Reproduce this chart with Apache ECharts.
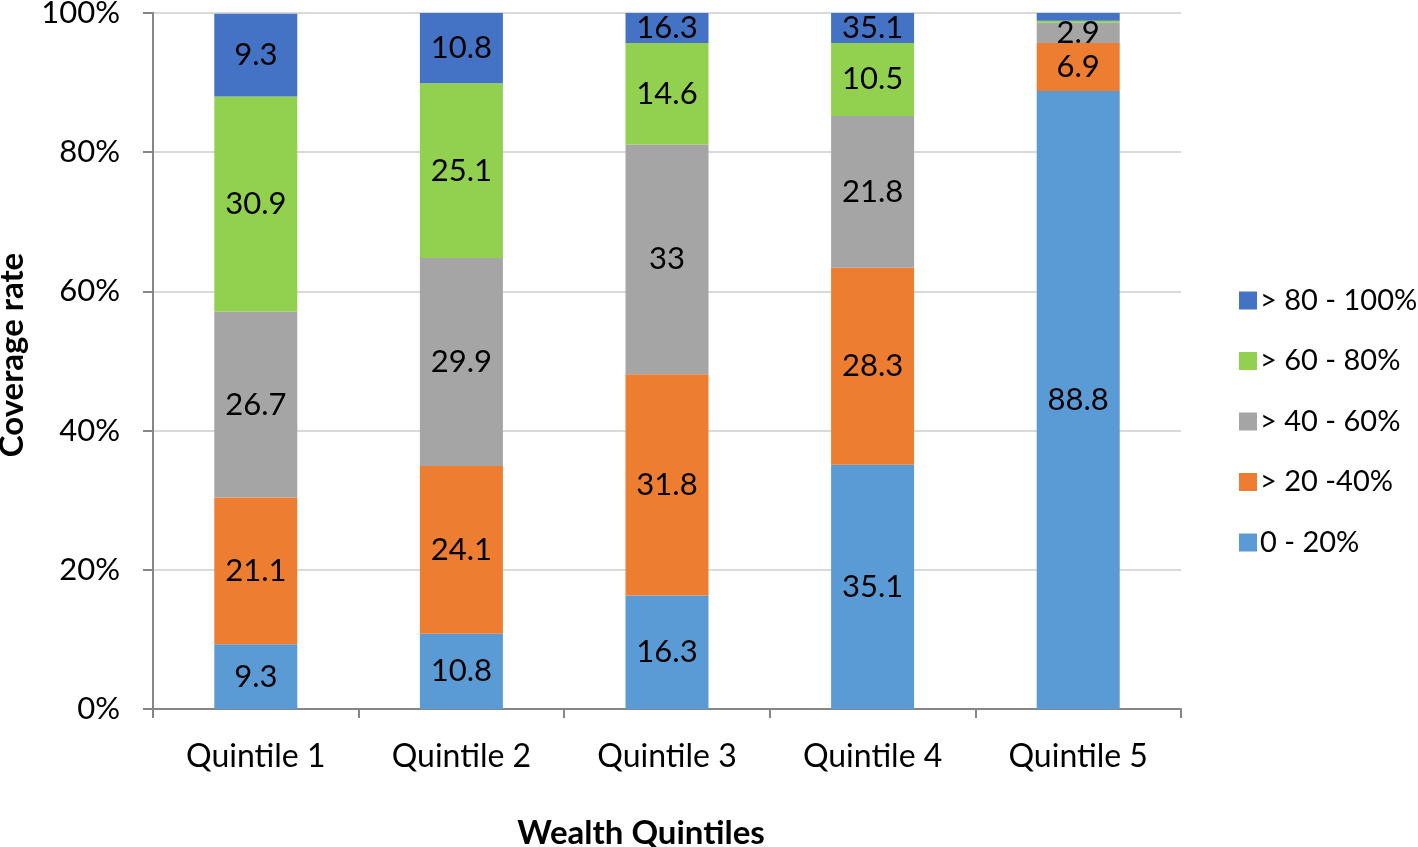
<!DOCTYPE html>
<html>
<head>
<meta charset="utf-8">
<script src="https://cdn.jsdelivr.net/npm/echarts@6/dist/echarts.min.js"></script>
<style>html,body{margin:0;padding:0;background:#fff;}#c{width:1418px;height:847px;}</style>
</head>
<body>
<div id="c"></div>
<script>
const categories = ['Quintile 1', 'Quintile 2', 'Quintile 3', 'Quintile 4', 'Quintile 5'];
const seriesNames = ['0 - 20%', '> 20 -40%', '> 40 - 60%', '> 60 - 80%', '> 80 - 100%'];
const s0to20 = [9.3, 10.8, 16.3, 35.1, 88.8];
const s20to40 = [21.1, 24.1, 31.8, 28.3, 6.9];
const s40to60 = [26.7, 29.9, 33, 21.8, 2.9];
const s60to80 = [30.9, 25.1, 14.6, 10.5, 0.3];
const s60to80Labels = ['30.9', '25.1', '14.6', '10.5', null];
// top segment: visible (drawn) height up to 100% and its printed label
const s80to100Drawn = [11.9, 10.1, 4.3, 4.3, 1.1];
const s80to100Labels = ['9.3', '10.8', '16.3', '35.1', null];
const yTicks = [0, 20, 40, 60, 80, 100];
const colors = ['#5B9BD5', '#ED7D31', '#A5A5A5', '#92D050', '#4472C4'];

const FONT = 'Lato';
const values = [s0to20, s20to40, s40to60, s60to80, s80to100Drawn];
const labels = [
  s0to20.map(String), s20to40.map(String), s40to60.map(String), s60to80Labels, s80to100Labels
];

const series = values.map((arr, i) => ({
  name: seriesNames[i],
  type: 'bar',
  stack: 'total',
  barWidth: 83,
  itemStyle: { color: colors[i] },
  label: {
    show: true, position: 'inside', color: '#000', fontFamily: FONT, fontSize: 31,
    formatter: p => labels[i][p.dataIndex] == null ? '' : labels[i][p.dataIndex]
  },
  emphasis: { disabled: true },
  data: arr.map((v, j) => ({ value: v, label: { show: labels[i][j] != null } }))
}));

const chart = echarts.init(document.getElementById('c'));
chart.setOption({
  animation: false,
  textStyle: { fontFamily: FONT },
  grid: { left: 153, right: 237, top: 13, bottom: 138, containLabel: false, outerBoundsMode: 'none' },
  legend: {
    orient: 'vertical', left: 1234, top: 281,
    itemWidth: 18, itemHeight: 18, itemGap: 31.5,
    icon: 'rect',
    data: seriesNames.slice().reverse(),
    textStyle: { fontFamily: FONT, fontSize: 29, color: '#000', padding: [0, 0, 0, -2] }
  },
  xAxis: {
    type: 'category', data: categories,
    name: 'Wealth Quintiles', nameLocation: 'middle', nameGap: 108,
    nameTextStyle: { fontFamily: FONT, fontSize: 33, fontWeight: 'bold', color: '#000', padding: [0, 52, 0, 0] },
    axisLine: { lineStyle: { color: '#868686', width: 2 } },
    axisTick: { show: true, length: 9, lineStyle: { color: '#868686', width: 2 } },
    axisLabel: { fontFamily: FONT, fontSize: 32, color: '#000', margin: 32 }
  },
  yAxis: {
    type: 'value', min: 0, max: 100, interval: 20,
    name: 'Coverage rate', nameLocation: 'middle', nameGap: 124, nameRotate: 90,
    nameTextStyle: { fontFamily: FONT, fontSize: 33, fontWeight: 'bold', color: '#000', padding: [0, 0, 0, 12] },
    axisLine: { show: true, lineStyle: { color: '#868686', width: 2 } },
    axisTick: { show: true, length: 10, lineStyle: { color: '#868686', width: 2 } },
    splitLine: { lineStyle: { color: '#D9D9D9', width: 2 } },
    axisLabel: {
      fontFamily: FONT, fontSize: 31, color: '#000', margin: 33,
      formatter: v => yTicks.includes(v) ? v + '%' : ''
    }
  },
  series: series
});
</script>
</body>
</html>
